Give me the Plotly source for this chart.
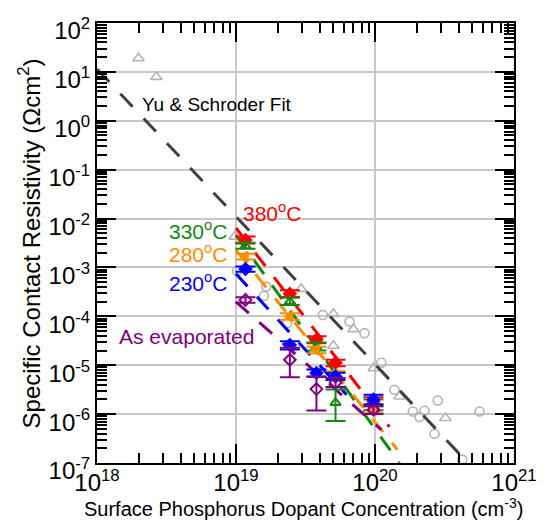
import plotly.graph_objects as go

# ---------------- data ----------------
# literature data (gray)
lit_circ_N = [1.02e19, 1.65e19, 1.59e19, 2.33e19, 4.21e19, 6.56e19, 8.4e19, 1.11e20,
              1.38e20, 1.87e20, 2.27e20, 2.09e20, 2.83e20, 2.68e20, 5.65e20, 4.24e20]
lit_circ_rho = [8.5e-4, 4.06e-4, 2.62e-4, 7.24e-5, 1.07e-4, 7.8e-5, 4.53e-5, 1.12e-5,
                3.15e-6, 1.13e-6, 1.17e-6, 8.7e-7, 1.9e-6, 3.97e-7, 1.13e-6, 1.17e-7]
lit_tri_N = [1.99e18, 2.67e18, 9.76e18, 2.94e19, 5.02e19, 7.0e19, 5.02e19, 9.8e19, 1.5e20, 3.21e20]
lit_tri_rho = [19.0, 7.9, 4.26e-3, 3.64e-4, 1.12e-4, 5.47e-5, 2.5e-5, 8.7e-6, 2.3e-6, 8.3e-7]

# Yu & Schroder fit
yu_N = [1e18, 1e21]
yu_rho = [11.5, 1.0e-8]

# measured series
N = [1.17e19, 2.44e19, 3.79e19, 5.2e19, 9.75e19]

rho_380 = [3.65e-3, 2.88e-4, 3.3e-5, 1.12e-5, 1.79e-6]
hi_380 = [4.3e-3, 3.4e-4, 3.9e-5, 1.3e-5, 2.2e-6]
lo_380 = [3.1e-3, 2.5e-4, 2.8e-5, 9.5e-6, 1.5e-6]

rho_330 = [2.75e-3, 2.0e-4, 2.41e-5, 1.71e-6, 1.55e-6]
hi_330 = [3.2e-3, 2.4e-4, 2.9e-5, 3.2e-6, 2.0e-6]
lo_330 = [2.4e-3, 1.7e-4, 2.0e-5, 7.2e-7, 1.2e-6]

rho_280 = [1.66e-3, 9.9e-5, 2.06e-5, 6.4e-6, 1.23e-6]
hi_280 = [1.9e-3, 1.15e-4, 2.4e-5, 7.5e-6, 1.45e-6]
lo_280 = [1.45e-3, 8.5e-5, 1.75e-5, 5.5e-6, 1.05e-6]

rho_230 = [9.3e-4, 2.6e-5, 6.9e-6, 5.9e-6, 2.0e-6]
hi_230 = [1.05e-3, 3.1e-5, 8.2e-6, 7.0e-6, 2.5e-6]
lo_230 = [8.2e-4, 2.1e-5, 5.8e-6, 5.0e-6, 1.6e-6]

rho_evap = [2.17e-4, 1.29e-5, 3.25e-6, 4.4e-6, 1.23e-6]
hi_evap = [2.45e-4, 2.27e-5, 5.9e-6, 5.5e-6, 1.45e-6]
lo_evap = [1.9e-4, 5.7e-6, 1.19e-6, 3.6e-6, 1.0e-6]

# dashed fit lines per temperature (end points)
fit_380_N = [1.0e19, 1.27e20]
fit_380_rho = [6.4e-3, 5.5e-7]
fit_330_N = [1.0e19, 1.5e20]
fit_330_rho = [4.6e-3, 1.0e-7]
fit_280_N = [1.0e19, 1.45e20]
fit_280_rho = [2.27e-3, 1.87e-7]
fit_230_N = [1.0e19, 6.24e19]
fit_230_rho = [7.4e-4, 2.5e-6]
fit_evap_N = [1.0e19, 1.11e20]
fit_evap_rho = [1.97e-4, 4.8e-7]

labels = ["380<sup>o</sup>C", "330<sup>o</sup>C", "280<sup>o</sup>C", "230<sup>o</sup>C", "As evaporated"]

x_exps = [18, 19, 20, 21]
y_exps = [-7, -6, -5, -4, -3, -2, -1, 0, 1, 2]

# ---------------- styles ----------------
RED = "#ff0000"
GREEN = "#128a12"
ORANGE = "#ff8c00"
BLUE = "#0000ff"
PURPLE = "#800080"
GRAY = "#b4b4b4"
FONT = "Liberation Sans, Arial, sans-serif"

fig = go.Figure()

fig.add_trace(go.Scatter(x=lit_circ_N, y=lit_circ_rho, mode="markers",
                         marker=dict(symbol="circle-open", size=9, color=GRAY, line=dict(width=1.6, color=GRAY))))
fig.add_trace(go.Scatter(x=lit_tri_N, y=lit_tri_rho, mode="markers",
                         marker=dict(symbol="triangle-up-open", size=10, color=GRAY, line=dict(width=1.6, color=GRAY))))

fig.add_trace(go.Scatter(x=yu_N, y=yu_rho, mode="lines",
                         line=dict(color="#404040", width=3, dash="18px,16px")))

fits = [(fit_380_N, fit_380_rho, RED), (fit_330_N, fit_330_rho, GREEN),
        (fit_280_N, fit_280_rho, ORANGE), (fit_230_N, fit_230_rho, BLUE),
        (fit_evap_N, fit_evap_rho, PURPLE)]
for fx, fy, c in fits:
    fig.add_trace(go.Scatter(x=fx, y=fy, mode="lines", line=dict(color=c, width=3, dash="17px,14px")))

series = [(rho_380, hi_380, lo_380, RED, "diamond"),
          (rho_330, hi_330, lo_330, GREEN, "triangle-up-open"),
          (rho_280, hi_280, lo_280, ORANGE, "triangle-left"),
          (rho_230, hi_230, lo_230, BLUE, "diamond"),
          (rho_evap, hi_evap, lo_evap, PURPLE, "diamond-open")]
for r, h, l, c, sym in series:
    plus = [a - b for a, b in zip(h, r)]
    minus = [b - a for a, b in zip(l, r)]
    fig.add_trace(go.Scatter(x=N, y=r, mode="markers",
                             marker=dict(symbol=sym, size=9, color=c, line=dict(width=2, color=c)),
                             error_y=dict(type="data", array=plus, arrayminus=minus, symmetric=False,
                                          color=c, thickness=2, width=10)))

ann_font = dict(family=FONT, size=21)
annotations = [
    dict(x=0.102, y=0.8155, text="Yu &amp; Schroder Fit", xanchor="left", font=dict(ann_font, size=19, color="#000000")),
    dict(x=0.345, y=0.571, text=labels[0], xanchor="left", font=dict(ann_font, color=RED)),
    dict(x=0.316, y=0.5295, text=labels[1], xanchor="right", font=dict(ann_font, color=GREEN)),
    dict(x=0.316, y=0.477, text=labels[2], xanchor="right", font=dict(ann_font, color=ORANGE)),
    dict(x=0.316, y=0.4118, text=labels[3], xanchor="right", font=dict(ann_font, color=BLUE)),
    dict(x=0.049, y=0.2867, text=labels[4], xanchor="left", font=dict(ann_font, color=PURPLE)),
    dict(x=-0.162, y=0.5, text="Specific Contact Resistivity (Ωcm<sup>2</sup>)", textangle=-90,
         xanchor="center", font=dict(family=FONT, size=24, color="black")),
    dict(x=0.495, y=-0.1, text="Surface Phosphorus Dopant Concentration (cm<sup>-3</sup>)",
         xanchor="center", font=dict(family=FONT, size=20, color="black")),
]
for a in annotations:
    a.update(xref="paper", yref="paper", yanchor="middle", showarrow=False)


def minor_vals(exps):
    vals = []
    for e in exps[:-1]:
        for d in range(2, 10):
            vals.append(d * 10.0 ** e)
    return vals


axis_common = dict(
    type="log", tickmode="array",
    ticks="inside", ticklen=19, tickwidth=2, tickcolor="black",
    showline=True, linewidth=2, linecolor="black", mirror="allticks",
    showgrid=True, gridcolor="#c8c8c8", gridwidth=2, zeroline=False,
    tickfont=dict(family=FONT, size=24, color="black"),
)

fig.update_layout(
    width=548, height=521,
    margin=dict(l=97, r=34, t=23, b=58),
    paper_bgcolor="white", plot_bgcolor="white",
    showlegend=False,
    font=dict(family=FONT, color="black"),
    xaxis=dict(axis_common, range=[18, 21],
               tickvals=[10.0 ** e for e in x_exps],
               ticktext=["10<sup>%d</sup>" % e for e in x_exps],
               ticklabelstandoff=-3,
               minor=dict(tickmode="array", tickvals=minor_vals(x_exps), ticks="inside",
                          ticklen=10, tickwidth=1.5, tickcolor="black", showgrid=False)),
    yaxis=dict(axis_common, range=[-7, 2],
               tickvals=[10.0 ** e for e in y_exps],
               ticktext=["10<sup>%d</sup>" % e for e in y_exps],
               ticklabelshift=8,
               minor=dict(tickmode="array", tickvals=minor_vals(y_exps), ticks="inside",
                          ticklen=10, tickwidth=1.5, tickcolor="black", showgrid=False)),
    annotations=annotations,
)

fig.write_html("out.html")
